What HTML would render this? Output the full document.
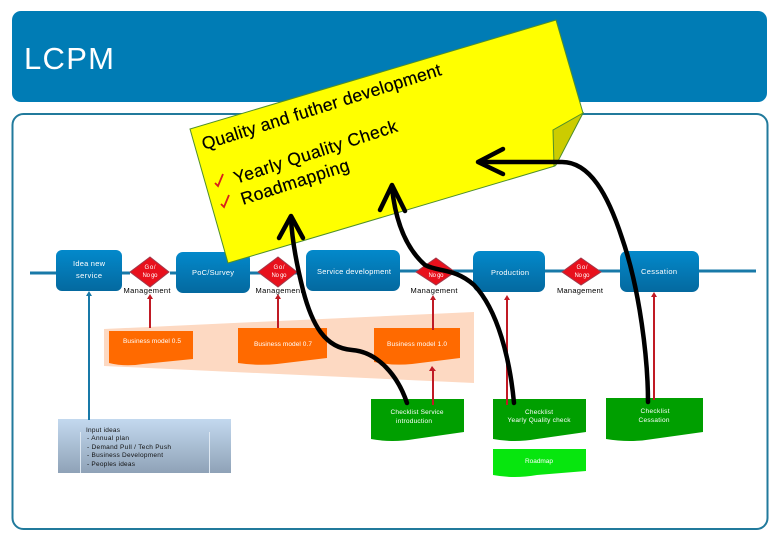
<!DOCTYPE html>
<html><head><meta charset="utf-8"><style>
html,body{margin:0;padding:0;background:#fff;width:780px;height:540px;overflow:hidden}
svg{display:block}
text{font-family:"Liberation Sans",sans-serif}
</style></head><body>
<svg width="780" height="540" viewBox="0 0 780 540" xmlns="http://www.w3.org/2000/svg">
<defs>
<linearGradient id="b" x1="0" y1="0" x2="0" y2="1"><stop offset="0" stop-color="#0389cb"/><stop offset="1" stop-color="#04699f"/></linearGradient>
<linearGradient id="g" x1="0" y1="0" x2="0" y2="1"><stop offset="0" stop-color="#c3d9ef"/><stop offset="1" stop-color="#8fa2b7"/></linearGradient>
</defs>
<rect x="12" y="11" width="755" height="91" rx="9" fill="#007cb5"/>
<rect x="12.500" y="114" width="755" height="415" rx="11" fill="#fff" stroke="#217a9c" stroke-width="2"/>
<text x="24" y="69" font-size="31" fill="#fff" textLength="90" lengthAdjust="spacing">LCPM</text>

<path d="M30 273H130M170 273H300M400 271H480M540 271H756" stroke="#1879a8" stroke-width="3" fill="none"/>

<polygon points="104,329 474,312 474,383 104,366" fill="#fdd9c2"/>
<path d="M109 331H193V359L143 364Q125 367 109 363Z" fill="#ff6a00"/>
<path d="M238 328H327V358L277 364Q258 366 238 363Z" fill="#ff6a00"/>
<path d="M374 328H460V358L412 364Q393 366 374 362Z" fill="#ff6a00"/>

<g fill="#009f00">
<path d="M371 399H464V432L415 439Q392 443 371 439Z"/>
<path d="M493 399H586V432L537 439Q514 443 493 439Z"/>
<path d="M606 398H703V432L653 439Q630 443 606 439Z"/>
</g>
<path d="M493 449H586V471L537 475Q514 479 493 475Z" fill="#07e60e"/>

<rect x="58" y="419" width="173" height="54" fill="url(#g)"/>
<path d="M80.500 432V473M209.500 432V473" stroke="#dfe9f3" stroke-width="1"/>

<g fill="url(#b)">
<rect x="56" y="250" width="66" height="41" rx="6"/>
<rect x="176" y="252" width="74" height="41" rx="7"/>
<rect x="306" y="250" width="94" height="41" rx="7"/>
<rect x="473" y="251" width="72" height="41" rx="7"/>
<rect x="620" y="251" width="79" height="41" rx="7"/>
</g>

<g fill="#e8101c" stroke="#a03a4c" stroke-width="1">
<polygon points="150,257 169,272 150,287 130,272"/>
<polygon points="278,257 297,272 278,287 258,272"/>
<polygon points="436,258 455,272 436,285 416,272"/>
<polygon points="581,258 601,272 581,285 562,272"/>
</g>

<g stroke="#c01a24" stroke-width="2" fill="none">
<path d="M150 328V297"/><path d="M278 328V297"/><path d="M433 330V298"/><path d="M433 405V369"/><path d="M507 405V298"/><path d="M654 400V295"/>
</g>
<g fill="#c01a24">
<polygon points="150,294 147,299 153,299"/><polygon points="278,294 275,299 281,299"/><polygon points="433,295 430,300 436,300"/><polygon points="432,366 429,371 436,371"/><polygon points="507,295 504,300 510,300"/><polygon points="654,292 651,297 657,297"/>
</g>
<path d="M89 420V294" stroke="#1879a8" stroke-width="2"/>
<polygon points="89,291 86,296 92,296" fill="#1879a8"/>

<polygon points="190,129 556,20 583,113 555,166 228,263" fill="#ffff00" stroke="#4f8f2a" stroke-width="1"/>
<polygon points="583,113 553,130 554,166 556,165" fill="#cccc00" stroke="#4f8f2a" stroke-width="1"/>

<g fill="#000" font-size="17.500" stroke="#000" stroke-width="0.200">
<text transform="translate(204,150) rotate(-17.500)" textLength="250" lengthAdjust="spacing">Quality and futher development</text>
<text transform="translate(236,184) rotate(-18)" textLength="171" lengthAdjust="spacing">Yearly Quality Check</text>
<text transform="translate(243,205) rotate(-18)" textLength="113" lengthAdjust="spacing">Roadmapping</text>
</g>
<path d="M215 183L218 186L223 174M221 204L224 207L229 195" stroke="#d8201c" stroke-width="1.800" fill="none"/>

<g fill="#fff" font-size="7" text-anchor="middle">
<text x="89" y="266" font-size="7.500" textLength="32">Idea new</text>
<text x="89" y="278" font-size="7.500" textLength="26">service</text>
<text x="213" y="275" font-size="7.500" textLength="42">PoC/Survey</text>
<text x="354" y="274" font-size="7.500" textLength="74">Service development</text>
<text x="510" y="275" font-size="7.500" textLength="38">Production</text>
<text x="659" y="274" font-size="7.500" textLength="36">Cessation</text>
<text x="150" y="269" font-size="6" textLength="11">Go/</text>
<text x="150" y="277" font-size="6" textLength="15">No go</text>
<text x="279" y="269" font-size="6" textLength="11">Go/</text>
<text x="279" y="277" font-size="6" textLength="15">No go</text>
<text x="436" y="277" font-size="6" textLength="15">No go</text>
<text x="582" y="269" font-size="6" textLength="11">Go/</text>
<text x="582" y="277" font-size="6" textLength="15">No go</text>
<text x="152" y="343" font-size="6.500" textLength="58">Business model 0.5</text>
<text x="283" y="346" font-size="6.500" textLength="58">Business model 0.7</text>
<text x="417" y="346" font-size="6.500" textLength="60">Business model 1.0</text>
<text x="417" y="414" font-size="6.500" textLength="53">Checklist Service</text>
<text x="414" y="423" font-size="6.500" textLength="36">introduction</text>
<text x="539" y="414" font-size="6.500" textLength="28">Checklist</text>
<text x="539" y="422" font-size="6.500" textLength="63">Yearly Quality check</text>
<text x="655" y="413" font-size="6.500" textLength="29">Checklist</text>
<text x="654" y="422" font-size="6.500" textLength="31">Cessation</text>
<text x="539" y="463" font-size="6.500" textLength="28">Roadmap</text>
</g>

<g fill="#000" font-size="7.500" text-anchor="middle">
<text x="147" y="293" textLength="47">Management</text>
<text x="279" y="293" textLength="47">Management</text>
<text x="434" y="293" textLength="47">Management</text>
<text x="580" y="293" textLength="46">Management</text>
</g>
<g fill="#111" font-size="6.500">
<text x="86" y="432" textLength="34">Input ideas</text>
<text x="87" y="440" textLength="42">- Annual plan</text>
<text x="87" y="449" textLength="84">- Demand Pull / Tech Push</text>
<text x="87" y="457" textLength="76">- Business Development</text>
<text x="87" y="466" textLength="48">- Peoples ideas</text>
</g>

<g fill="none" stroke="#000" stroke-width="4.500" stroke-linecap="round" stroke-linejoin="round">
<path d="M407 403C398 376 378 352 352 350C325 348 312 325 303 290C296 262 292 240 291 218"/>
<path d="M279 238L291 216L303 238"/>
<path d="M514 403C510 360 498 310 474 285C455 268 438 272 425 265C408 250 396 225 392 188"/>
<path d="M380 210L392 185L405 211"/>
<path d="M648 402C648 360 640 290 622 238C608 195 590 162 562 162H479"/>
<path d="M503 149L478 162L503 174"/>
</g>
</svg>
</body></html>
